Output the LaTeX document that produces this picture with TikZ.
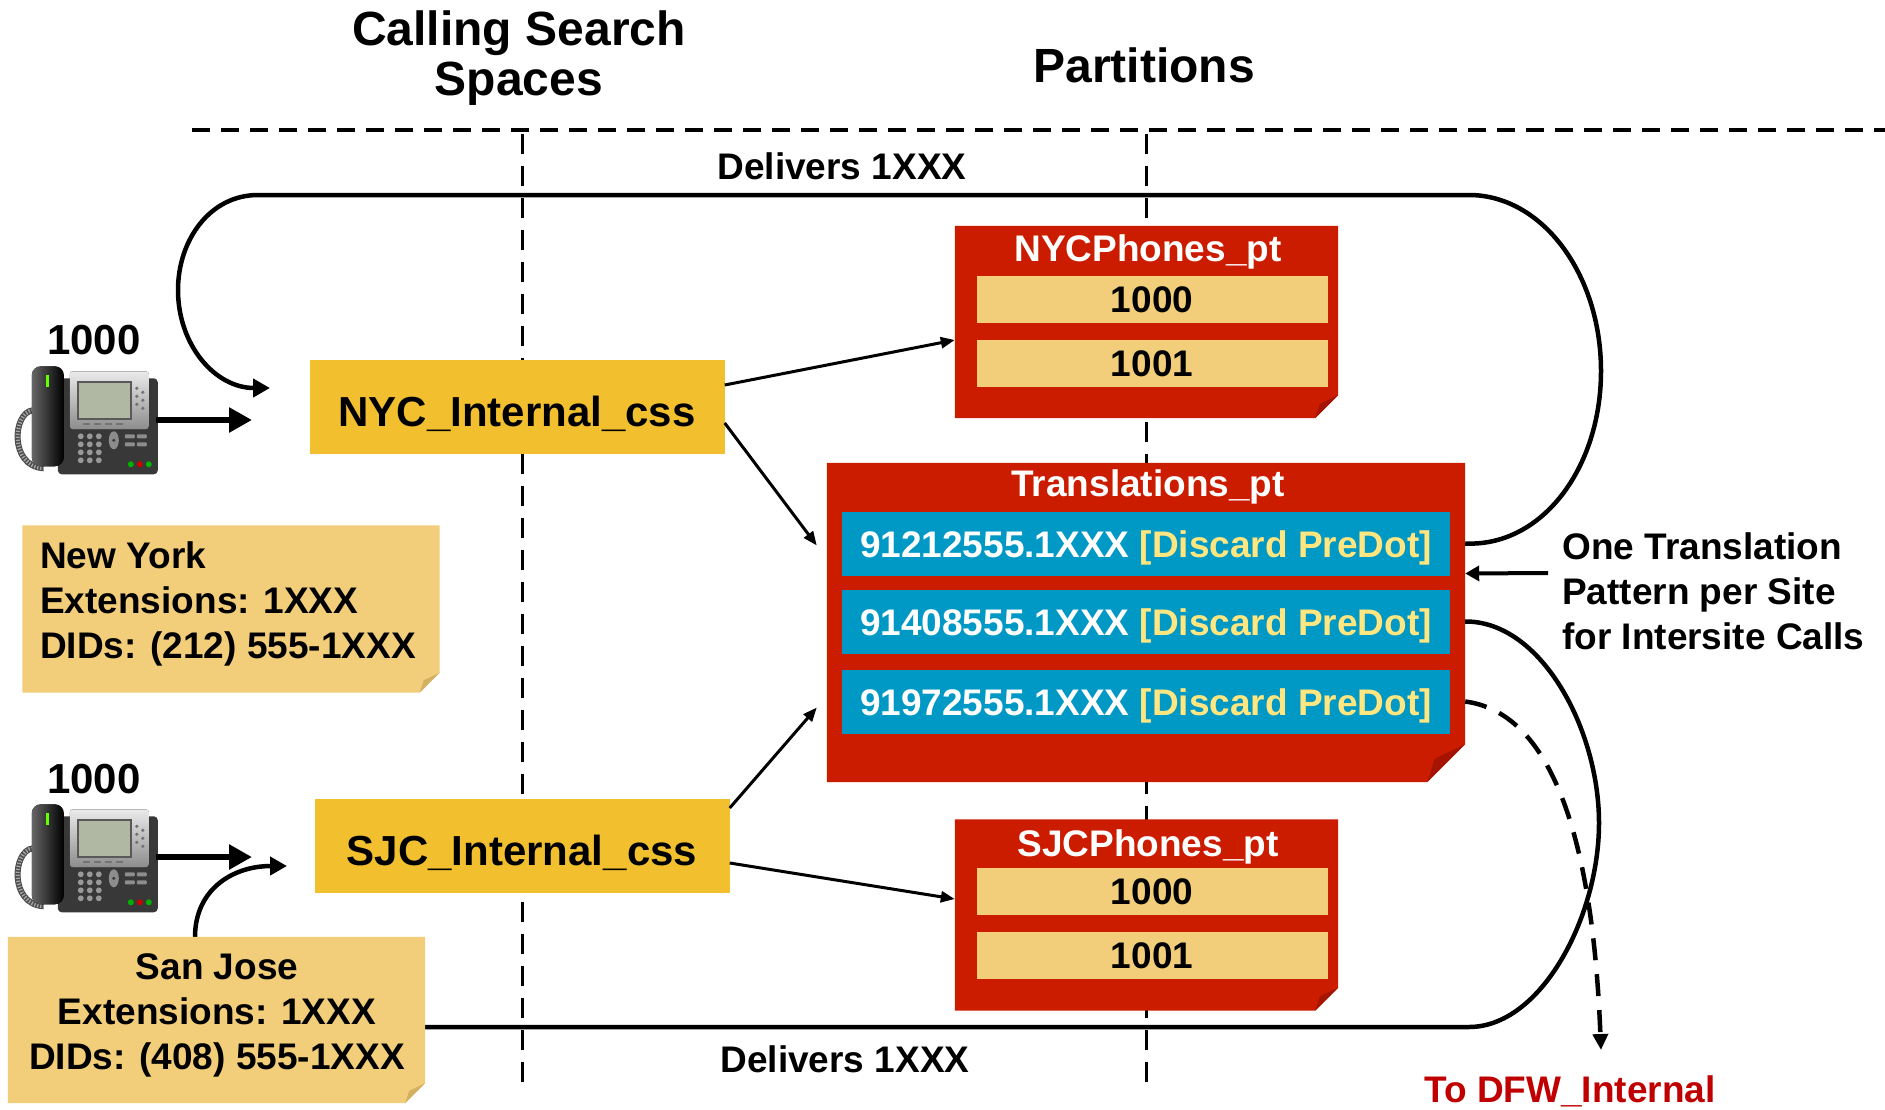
\documentclass[tikz,border=0pt]{standalone}
\usepackage{fontspec}
\setmainfont{Liberation Sans}
\usetikzlibrary{arrows.meta}

\definecolor{cssyellow}{RGB}{242,192,46}
\definecolor{notetan}{RGB}{242,205,122}
\definecolor{notefold}{RGB}{212,176,98}
\definecolor{ptred}{RGB}{204,28,0}
\definecolor{ptfold}{RGB}{165,20,0}
\definecolor{rowblue}{RGB}{0,152,196}
\definecolor{dotyellow}{RGB}{255,230,128}
\definecolor{dfwred}{RGB}{192,0,0}
\definecolor{screengreen}{RGB}{176,184,164}

\newcommand{\bigtxt}{\fontsize{42}{48}\selectfont\bfseries}
\newcommand{\headtxt}{\fontsize{48}{50}\selectfont\bfseries}
\newcommand{\txt}{\fontsize{37}{45}\selectfont\bfseries}

% filled area with a turned-down bottom right corner
\newcommand{\dogear}[4]{%
  \fill[#2] (#1.north west) -- (#1.north east) -- ([yshift=#4]#1.south east)
    -- ([xshift=-#4]#1.south east) -- (#1.south west) -- cycle;
  \fill[#3] ([xshift=-#4]#1.south east) -- ([yshift=#4]#1.south east)
    -- ([xshift=-0.8*#4, yshift=0.62*#4]#1.south east) -- cycle;
}

% desk phone, drawn inside a phone node
\newcommand{\ipphone}[1]{%
  \begin{scope}[shift={(#1.north west)}]
    % coiled cord
    \draw[line width=6pt, black!70] (21,44) .. controls (1,46) and (-3,100) .. (32,102);
    \draw[line width=4pt, black!35, dash pattern=on 1.3pt off 1.7pt] (21,44) .. controls (1,46) and (-3,100) .. (32,102);
    % base and silver frame
    \fill[black!78, rounded corners=4pt] (46,12) rectangle (146,108);
    \fill[top color=black!8, bottom color=black!45, rounded corners=3pt] (58,5) rectangle (137,63);
    \fill[black!65] (65,15) rectangle (120,54);
    \fill[screengreen] (67,17) rectangle (118,52);
    % soft keys and side keys
    \foreach \x in {71,82,93,104}
      \fill[black!55] (\x,57) rectangle ++(7,2);
    \foreach \y in {22,30,38}
      \fill[black!55] (125,\y) circle (1.8pt) (131,\y+4) circle (1.8pt);
    % keypad
    \foreach \i in {0,1,2}
      \foreach \j in {0,1,2,3}
        \fill[black!40] (69+9*\i,70+8*\j) circle (2.9pt);
    \fill[black!45] (102,74) ellipse (5pt and 9pt);
    \fill[black!75] (102,74) circle (1.8pt);
    \foreach \x/\y in {113/68,125/68,113/76,125/76}
      \fill[black!45, rounded corners=1pt] (\x,\y) rectangle ++(10,4);
    % line keys
    \fill[green!70!black] (119,98) circle (3pt);
    \fill[red!80!black] (128,98) circle (3pt);
    \fill[green!70!black] (137,98) circle (3pt);
    % handset
    \fill[left color=black!60, right color=black, rounded corners=9pt] (20,0) rectangle (52,100);
    \fill[green!60!yellow] (34,9) rectangle (37,21);
  \end{scope}}

\begin{document}
\begin{tikzpicture}[x=1pt, y=-1pt]
    % Define styles for shapes
    \tikzstyle{cssbox} = [fill=cssyellow, minimum width=415pt, minimum height=94pt, inner sep=0pt, text height=38pt, text depth=0pt, font=\bigtxt]
    \tikzstyle{partarea} = [inner sep=0pt]
    \tikzstyle{ptname} = [text=white, font=\txt, inner sep=0pt, text height=27pt, text depth=0pt]
    \tikzstyle{extrow} = [fill=notetan, minimum width=351pt, minimum height=47pt, inner sep=0pt, text height=27pt, text depth=0pt, font=\txt]
    \tikzstyle{tprow} = [fill=rowblue, text=white, minimum width=608pt, minimum height=64pt, inner sep=0pt, text height=27pt, text depth=0pt, font=\txt]
    \tikzstyle{phone} = [minimum width=144pt, minimum height=115pt, inner sep=0pt]
    \tikzstyle{txtnode} = [font=\txt, inner sep=0pt]
    \tikzstyle{callarrow} = [line width=6pt, -{Triangle[length=23pt, width=24pt]}]
    \tikzstyle{loopline} = [line width=4.5pt, -{Triangle[length=17pt, width=18pt]}]
    \tikzstyle{linkarrow} = [line width=3pt, -{Triangle[length=14pt, width=11pt]}]
    \tikzstyle{hintarrow} = [line width=4pt, -{Triangle[length=14pt, width=15pt]}]
    \tikzstyle{dfwarrow} = [line width=4.5pt, dash pattern=on 22pt off 14pt, -{Triangle[length=16pt, width=15pt]}]

    \useasboundingbox (0,0) rectangle (1885,1109);

    % Draw the dashed column lines
    \draw[line width=4pt, dash pattern=on 18pt off 11pt] (192,130) -- (1885,130);
    \draw[line width=3pt, dash pattern=on 20pt off 12pt] (522,134) -- (522,1088);
    \draw[line width=3pt, dash pattern=on 20pt off 12pt] (1146,134) -- (1146,1088);

    % Column headings
    \node[font=\headtxt, align=center, inner sep=0pt] (csshead) at (519,58) {Calling Search\\Spaces};
    \node[font=\headtxt, inner sep=0pt] (pthead) at (1144,65) {Partitions};

    % Calling search spaces
    \node[cssbox] (nyccss) at (517,407) {NYC\_Internal\_css};
    \node[cssbox] (sjccss) at (522,846) {SJC\_Internal\_css};

    % Partitions
    \node[partarea, minimum width=383pt, minimum height=192pt] (nycpt) at (1146.5,322) {};
    \dogear{nycpt}{ptred}{ptfold}{23pt}
    \node[ptname] (nycptname) at (1148,248) {NYCPhones\_pt};
    \node[extrow] (nyc1000) at (1152,299) {1000};
    \node[extrow] (nyc1001) at (1152,363) {1001};

    \node[partarea, minimum width=638pt, minimum height=319pt] (tp) at (1146,622.5) {};
    \dogear{tp}{ptred}{ptfold}{38pt}
    \node[ptname] (tpname) at (1148,483) {Translations\_pt};
    \node[tprow] (tr1) at (1146,543.5) {91212555.1XXX \textcolor{dotyellow}{[Discard PreDot]}};
    \node[tprow] (tr2) at (1146,621.5) {91408555.1XXX \textcolor{dotyellow}{[Discard PreDot]}};
    \node[tprow] (tr3) at (1146,701.5) {91972555.1XXX \textcolor{dotyellow}{[Discard PreDot]}};

    \node[partarea, minimum width=383pt, minimum height=191pt] (sjcpt) at (1146.5,915) {};
    \dogear{sjcpt}{ptred}{ptfold}{23pt}
    \node[ptname] (sjcptname) at (1148,843) {SJCPhones\_pt};
    \node[extrow] (sjc1000) at (1152,891) {1000};
    \node[extrow] (sjc1001) at (1152,955) {1001};

    % Free ends of the arrows
    \coordinate (nycloop) at (270,388);
    \coordinate (sjcloop) at (287,866);
    \coordinate (nycin) at (252,420);
    \coordinate (sjcin) at (252,857);
    \coordinate (dfwout) at (1601,1050);

    % Translated calls back to the sites
    \draw[loopline] (tr1.east -| tp.east) .. controls (1542,547) and (1601,468) .. (1601,371)
        .. controls (1601,274) and (1542,195) .. (1469,195) -- (258,195)
        .. controls (210,195) and (178,240) .. (178,290)
        .. controls (178,345) and (215,388) .. (nycloop);
    \draw[loopline] (tr2.east -| tp.east) .. controls (1541,621) and (1599,729) .. (1599,823)
        .. controls (1599,917) and (1541,1027) .. (1469,1027) -- (195,1027) -- (195,937)
        .. controls (195,890) and (232,866) .. (sjcloop);
    \draw[dfwarrow] (tr3.east -| tp.east) .. controls (1545,712) and (1592,820) .. (dfwout);

    % Site notes
    \node[partarea, minimum width=417pt, minimum height=167pt] (nynote) at (231,609) {};
    \dogear{nynote}{notetan}{notefold}{20pt}
    \node[txtnode, align=left, anchor=west] (nytext) at (40,603.5) {New York\\Extensions: 1XXX\\DIDs: (212) 555-1XXX};

    \node[partarea, minimum width=417pt, minimum height=166pt] (sjnote) at (216.5,1020) {};
    \dogear{sjnote}{notetan}{notefold}{20pt}
    \node[txtnode, align=center] (sjtext) at (217,1015.5) {San Jose\\Extensions: 1XXX\\DIDs: (408) 555-1XXX};

    % Draw the arrows from the calling search spaces
    \draw[linkarrow] ([yshift=22pt]nyccss.east) -- ([yshift=-18pt]nycpt.west);
    \draw[linkarrow] ([yshift=-16pt]nyccss.east) -- ([xshift=-10pt, yshift=77pt]tp.west);
    \draw[linkarrow] ([yshift=38pt]sjccss.east) -- ([xshift=-10pt, yshift=-85pt]tp.west);
    \draw[linkarrow] ([yshift=-17pt]sjccss.east) -- ([yshift=16pt]sjcpt.west);

    % Phones
    \node[phone] (nycphone) at (84,424) {};
    \ipphone{nycphone}
    \node[font=\bigtxt, inner sep=0pt] (nycext) at (94,340) {1000};
    \draw[callarrow] ([yshift=4pt]nycphone.east) -- (nycin);

    \node[phone] (sjcphone) at (84,862) {};
    \ipphone{sjcphone}
    \node[font=\bigtxt, inner sep=0pt] (sjcext) at (94,779) {1000};
    \draw[callarrow] ([yshift=5pt]sjcphone.east) -- (sjcin);

    % Labels
    \node[txtnode] (topdeliver) at (842,166) {Delivers 1XXX};
    \node[txtnode] (bottomdeliver) at (845,1059) {Delivers 1XXX};
    \node[txtnode, align=left, anchor=west] (onept) at (1562,591) {One Translation\\Pattern per Site\\for Intersite Calls};
    \draw[hintarrow] ([xshift=-14pt, yshift=18pt]onept.west) -- ([yshift=49pt]tp.east);
    \node[txtnode, text=dfwred, anchor=base] (dfw) at (1570,1102) {To DFW\_Internal};

\end{tikzpicture}
\end{document}
